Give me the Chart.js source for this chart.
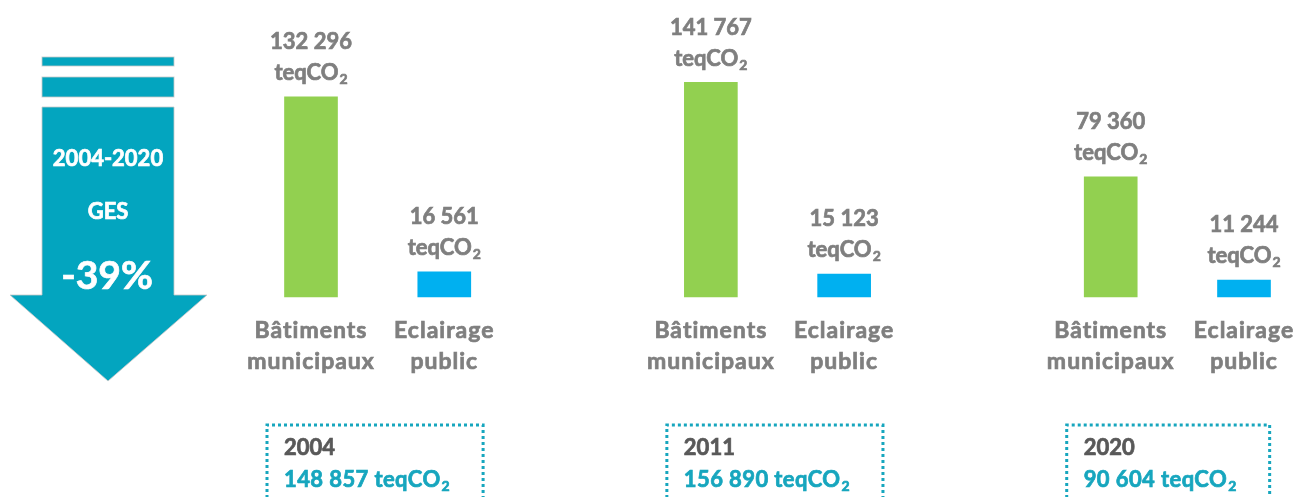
<!DOCTYPE html>
<html>
<head>
<meta charset="utf-8">
<script src="https://cdn.jsdelivr.net/npm/chart.js@4.4.1/dist/chart.umd.min.js"></script>
<style>
  html, body { margin: 0; padding: 0; background: #fff; }
  #wrap { position: relative; width: 1294px; height: 497px; overflow: hidden; }
</style>
</head>
<body>
<div id="wrap"><canvas id="gesChart" width="1294" height="497"></canvas></div>
<script>
// Data
const years = ['2004', '2011', '2020'];
const categories = [['Bâtiments', 'municipaux'], ['Eclairage', 'public']];
const batiments = [132296, 141767, 79360];
const eclairage = [16561, 15123, 11244];
const totals = [148857, 156890, 90604];
const trendLines = ['2004-2020', 'GES', '-39%'];
const unit = 'teqCO';

const GREEN = '#92D050';
const BLUE = '#00B0F0';
const GREY = '#7F7F7F';
const DARK = '#595959';
const TEAL = '#17A6BE';
const ARROW = '#03A5BF';
const FONT = 'Lato, "Open Sans", sans-serif';

// Build one bar per slot, with an empty slot between the years
const labels = [];
const values = [];
const colors = [];
years.forEach((y, i) => {
    if (i > 0) {
        labels.push('');
        values.push(null);
        colors.push('rgba(0,0,0,0)');
    }
    labels.push(categories[0]);
    values.push(batiments[i]);
    colors.push(GREEN);
    labels.push(categories[1]);
    values.push(eclairage[i]);
    colors.push(BLUE);
});

function fmt(n) {
    return String(n).replace(/\B(?=(\d{3})+(?!\d))/g, ' ');
}

// fill + thin stroke, to get closer to the heavy bold of the original
function heavyText(ctx, txt, x, y) {
    ctx.fillText(txt, x, y);
    ctx.strokeStyle = ctx.fillStyle;
    ctx.lineWidth = 0.7;
    ctx.strokeText(txt, x, y);
}

function unitWidth(ctx, prefix, size) {
    ctx.font = 'bold ' + size + 'px ' + FONT;
    const w1 = ctx.measureText(prefix + unit).width;
    ctx.font = 'bold ' + Math.round(size * 0.62) + 'px ' + FONT;
    const w2 = ctx.measureText('2').width;
    return w1 + w2 + 1;
}

// "teqCO" + subscript 2, left aligned at x
function drawUnit(ctx, prefix, x, y, size) {
    ctx.textAlign = 'left';
    ctx.textBaseline = 'middle';
    ctx.font = 'bold ' + size + 'px ' + FONT;
    const txt = prefix + unit;
    heavyText(ctx, txt, x, y);
    const w1 = ctx.measureText(txt).width;
    ctx.font = 'bold ' + Math.round(size * 0.62) + 'px ' + FONT;
    heavyText(ctx, '2', x + w1 + 1, y + size * 0.3);
    return x + w1 + 1 + ctx.measureText('2').width;
}

function drawArrow(ctx) {
    ctx.save();
    ctx.fillStyle = ARROW;
    ctx.strokeStyle = 'rgba(200,200,200,0.8)';
    ctx.lineWidth = 1;
    ctx.fillRect(42, 57, 132, 9);
    ctx.strokeRect(42, 57, 132, 9);
    ctx.fillRect(42, 77, 132, 20);
    ctx.strokeRect(42, 77, 132, 20);
    ctx.beginPath();
    ctx.moveTo(42, 107);
    ctx.lineTo(174, 107);
    ctx.lineTo(174, 295);
    ctx.lineTo(207, 295);
    ctx.lineTo(108, 381);
    ctx.lineTo(10, 295);
    ctx.lineTo(42, 295);
    ctx.closePath();
    ctx.fill();
    ctx.stroke();

    ctx.fillStyle = '#fff';
    ctx.textAlign = 'center';
    ctx.textBaseline = 'middle';
    ctx.font = 'bold 22px ' + FONT;
    heavyText(ctx, trendLines[0], 108, 159);
    heavyText(ctx, trendLines[1], 108, 212);
    ctx.font = 'bold 39px ' + FONT;
    heavyText(ctx, trendLines[2], 107, 276);
    ctx.restore();
}

const labelsPlugin = {
    id: 'labelsPlugin',
    afterDatasetsDraw(chart) {
        const ctx = chart.ctx;
        const xScale = chart.scales.x;
        const area = chart.chartArea;
        const meta = chart.getDatasetMeta(0);

        ctx.save();
        drawArrow(ctx);

        // value labels above bars + category labels under them
        meta.data.forEach((bar, i) => {
            const v = values[i];
            if (v === null) return;
            ctx.fillStyle = GREY;
            ctx.textAlign = 'center';
            ctx.textBaseline = 'middle';
            ctx.font = 'bold 22px ' + FONT;
            heavyText(ctx, fmt(v), bar.x, bar.y - 55);
            const w = unitWidth(ctx, '', 22);
            drawUnit(ctx, '', bar.x - w / 2, bar.y - 24, 22);

            const lab = labels[i];
            const x = xScale.getPixelForValue(i);
            ctx.fillStyle = GREY;
            ctx.textAlign = 'center';
            ctx.font = 'bold 23px ' + FONT;
            ctx.letterSpacing = '1px';
            heavyText(ctx, lab[0], x, area.bottom + 34);
            heavyText(ctx, lab[1], x, area.bottom + 65);
            ctx.letterSpacing = '0px';
        });

        // total boxes
        years.forEach((y, i) => {
            const gx = xScale.getPixelForValue(i * 3);
            const left = gx - 44;
            const tx = left + 17;
            ctx.fillStyle = DARK;
            ctx.textAlign = 'left';
            ctx.textBaseline = 'middle';
            ctx.font = 'bold 22px ' + FONT;
            heavyText(ctx, y, tx, 448);
            ctx.fillStyle = TEAL;
            ctx.letterSpacing = '0.4px';
            const end = drawUnit(ctx, fmt(totals[i]) + ' ', tx, 480, 22);
            ctx.letterSpacing = '0px';
            const right = end + 33;

            ctx.strokeStyle = TEAL;
            ctx.lineWidth = 3;
            ctx.setLineDash([3, 3]);
            ctx.beginPath();
            ctx.moveTo(left, 510);
            ctx.lineTo(left, 425);
            ctx.lineTo(right, 425);
            ctx.lineTo(right, 510);
            ctx.stroke();
            ctx.setLineDash([]);
        });
        ctx.restore();
    }
};

new Chart(document.getElementById('gesChart'), {
    type: 'bar',
    data: {
        labels: labels,
        datasets: [{
            data: values,
            backgroundColor: colors,
            barThickness: 53,
            clip: false
        }]
    },
    options: {
        responsive: false,
        animation: false,
        layout: { padding: { left: 311, right: 50, top: 17, bottom: 200 } },
        plugins: {
            legend: { display: false },
            tooltip: { enabled: false }
        },
        scales: {
            x: { display: false, offset: false },
            y: { display: false, min: 0, max: 185000 }
        }
    },
    plugins: [labelsPlugin]
});
</script>
</body>
</html>
